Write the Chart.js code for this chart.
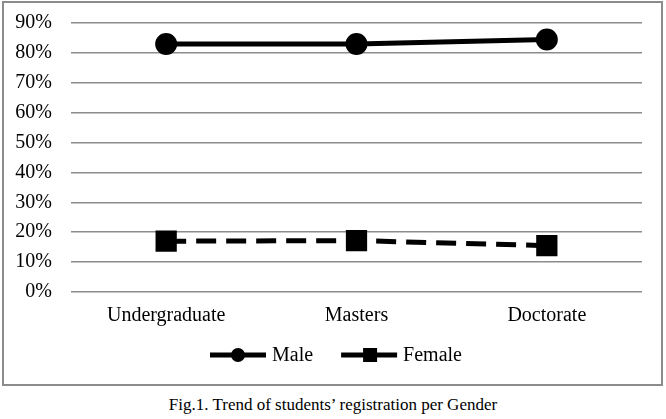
<!DOCTYPE html>
<html>
  <head>
    <meta charset="utf-8">
    <style>
      body { margin: 0; background: #fff; font-family: "Liberation Serif", serif; }
      #frame { position: absolute; left: 2px; top: 1px; width: 657px; height: 381px; border: 2px solid #8c8c8c; }
      #caption { position: absolute; left: 0; top: 395px; width: 666px; text-align: center; font-size: 17px; color: #000; }
    </style>
  </head>
  <body>
    <div id="frame">
      <canvas id="genderChart" width="657" height="381"></canvas>
    </div>
    <div id="caption">Fig.1. Trend of students’ registration per Gender</div>

    <script src="https://cdn.jsdelivr.net/npm/chart.js@4/dist/chart.umd.min.js"></script>
    <script>
      // values
      var levels = ['Undergraduate', 'Masters', 'Doctorate'];
      var male = [0.83, 0.83, 0.845];
      var female = [0.17, 0.172, 0.155];
      var yTicks = [0, 0.1, 0.2, 0.3, 0.4, 0.5, 0.6, 0.7, 0.8, 0.9];

      var serif = '"Liberation Serif", "Times New Roman", serif';

      // legend drawn as line + marker, like the original
      var lineLegend = {
        id: 'lineLegend',
        afterDraw: function(chart) {
          var ctx = chart.ctx;
          var y = 352;
          var x = 206;
          ctx.save();
          ctx.font = '20px ' + serif;
          ctx.textBaseline = 'middle';
          chart.data.datasets.forEach(function(ds) {
            ctx.strokeStyle = '#000';
            ctx.lineWidth = 5;
            ctx.setLineDash([]);
            ctx.beginPath();
            ctx.moveTo(x, y);
            ctx.lineTo(x + 56, y);
            ctx.stroke();
            ctx.fillStyle = '#000';
            if (ds.pointStyle == 'rect') {
              ctx.fillRect(x + 22, y - 7, 14, 14);
            } else {
              ctx.beginPath();
              ctx.arc(x + 28, y, 7, 0, Math.PI * 2);
              ctx.fill();
            }
            ctx.fillText(ds.label, x + 62, y + 1);
            x += 62 + ctx.measureText(ds.label).width + 28;
          });
          ctx.restore();
        }
      };

      function drawChart() {
        var ctx = document.getElementById('genderChart').getContext('2d');
        var genderChart = new Chart(ctx, {
          type: 'line',
          data: {
            labels: levels,
            datasets: [{
              label: 'Male',
              data: male,
              borderColor: '#000',
              backgroundColor: '#000',
              borderWidth: 5,
              pointStyle: 'circle',
              pointRadius: 8.5,
              pointHoverRadius: 8.5
            }, {
              label: 'Female',
              data: female,
              borderColor: '#000',
              backgroundColor: '#000',
              borderWidth: 5,
              borderDash: [20, 10],
              pointStyle: 'rect',
              pointRadius: 11.5,
              pointHoverRadius: 11.5
            }]
          },
          plugins: [lineLegend],
          options: {
            responsive: false,
            animation: false,
            layout: { padding: { top: 20, right: 19, bottom: 52, left: 0 } },
            plugins: {
              legend: { display: false },
              tooltip: { enabled: false }
            },
            scales: {
              x: {
                offset: true,
                grid: { display: false, drawTicks: false },
                border: { display: false },
                ticks: { color: '#000', padding: 12, font: { family: serif, size: 20 } },
                afterFit: function(scale) { scale.height = 40; }
              },
              y: {
                min: 0,
                max: 0.9,
                afterBuildTicks: function(scale) {
                  scale.ticks = yTicks.map(function(v) { return { value: v }; });
                },
                grid: { color: '#8c8c8c', lineWidth: 1.5, drawTicks: false },
                border: { display: false },
                ticks: {
                  color: '#000',
                  padding: 19,
                  font: { family: serif, size: 20 },
                  callback: function(v) { return Math.round(v * 100) + '%'; }
                },
                afterFit: function(scale) {
                  scale.width = 67;
                  scale.paddingTop = 0;
                  scale.paddingBottom = 0;
                }
              }
            }
          }
        });
      }

      document.fonts.load('20px "Liberation Serif"').then(drawChart, drawChart);
    </script>
  </body>
</html>
